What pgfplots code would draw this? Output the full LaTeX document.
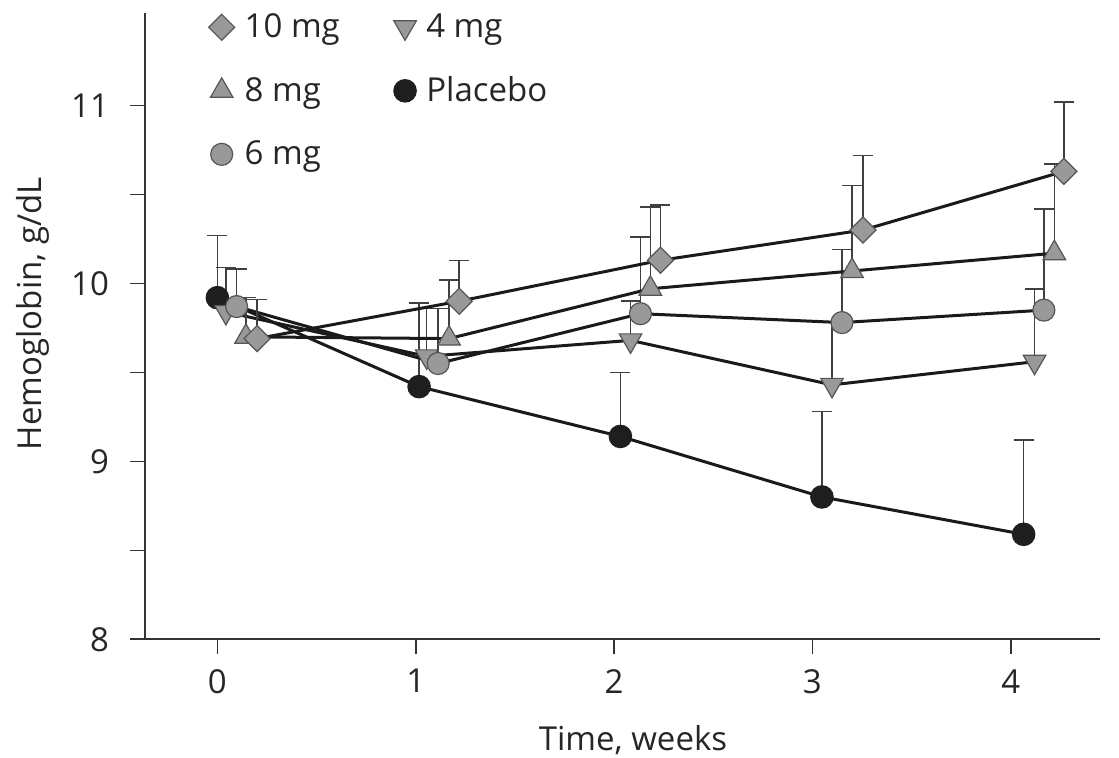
\documentclass[border=0pt]{standalone}
\usepackage{pgfplots}
\pgfplotsset{compat=1.18}
\usepackage{pgfplotstable}
\usepackage{fontspec}
\setmainfont{Open Sans}
\definecolor{mgrey}{HTML}{999999}
\definecolor{mdraw}{HTML}{555555}
\definecolor{pblack}{HTML}{1E1E1E}
\definecolor{lineblack}{HTML}{1A1A1A}
\definecolor{ebar}{HTML}{404040}

\pgfplotstableread{
x y ep
0.000 9.92 0.35
1.017 9.42 0.47
2.032 9.14 0.36
3.048 8.80 0.48
4.065 8.59 0.53
}\placebo
\pgfplotstableread{
x y ep
0.043 9.84 0.25
1.055 9.59 0.27
2.083 9.68 0.22
3.099 9.43 0.35
4.120 9.56 0.41
}\mgfour
\pgfplotstableread{
x y ep
0.097 9.87 0.21
1.113 9.55 0.31
2.133 9.83 0.43
3.149 9.78 0.41
4.167 9.85 0.57
}\mgsix
\pgfplotstableread{
x y ep
0.144 9.70 0.22
1.168 9.69 0.33
2.183 9.97 0.46
3.200 10.07 0.48
4.220 10.17 0.50
}\mgeight
\pgfplotstableread{
x y ep
0.200 9.69 0.22
1.219 9.90 0.23
2.234 10.13 0.31
3.255 10.30 0.42
4.268 10.63 0.39
}\mgten

\begin{document}
\begin{tikzpicture}
\useasboundingbox (-72.5pt,-59.35pt) rectangle (487pt,319.65pt);
\begin{axis}[
  at={(0,0)}, anchor=south west,
  scale only axis, width=477.5pt, height=313.15pt,
  xmin=-0.365, xmax=4.45, ymin=8, ymax=11.52,
  axis x line=bottom, axis y line=left,
  axis line style={-, line width=0.8pt, color=black!80},
  tick align=outside,
  major tick length=7.5pt, minor tick length=7.5pt,
  every tick/.style={line width=0.8pt, color=black!80},
  xtick={0,1,2,3,4}, ytick={8,9,10,11}, minor ytick={8.5,9.5,10.5},
  minor xtick={},
  /pgf/number format/assume math mode=true,
  tick label style={font=\fontsize{16.5}{20}\selectfont, color=black!85},
  xticklabel style={yshift=-4pt},
  yticklabel style={xshift=-7pt},
  every axis x label/.style={at={(axis description cs:0.511,-0.178)}, anchor=base,
    font=\fontsize{16.5}{20}\selectfont, color=black!85},
  every axis y label/.style={at={(axis description cs:-0.108,0.52)}, rotate=90, anchor=base,
    font=\fontsize{16.5}{20}\selectfont, color=black!85},
  xlabel={Time, weeks},
  ylabel={Hemoglobin, g/dL},
  clip=false,
  legend columns=2,
  legend image code/.code={\draw[#1] plot coordinates {(0pt,0pt)};},
  legend style={at={(axis description cs:0.060,1.012)}, anchor=north west,
    draw=none, fill=none, font=\fontsize{16.5}{20}\selectfont, text=black!85,
    row sep=14pt, column sep=3pt,
    /tikz/column 2/.style={column sep=25pt}},
  legend cell align=left,
  error bars/error bar style={line width=0.8pt, color=ebar},
  error bars/error mark options={rotate=90, mark size=5pt, line width=0.8pt, color=ebar},
]
\addlegendimage{mark=square*, mark size=4.6pt, mark options={rotate=45, fill=mgrey, draw=mdraw, line width=0.6pt}}
\addlegendentry{10 mg}
\addlegendimage{mark=triangle*, mark size=6.5pt, mark options={rotate=180, fill=mgrey, draw=mdraw, line width=0.6pt}}
\addlegendentry{4 mg}
\addlegendimage{mark=triangle*, mark size=6.5pt, mark options={fill=mgrey, draw=mdraw, line width=0.6pt}}
\addlegendentry{8 mg}
\addlegendimage{mark=*, mark size=5.6pt, mark options={fill=pblack, draw=pblack, line width=0.6pt}}
\addlegendentry{Placebo}
\addlegendimage{mark=*, mark size=5.5pt, mark options={fill=mgrey, draw=mdraw, line width=0.6pt}}
\addlegendentry{6 mg}

\addplot[forget plot, color=lineblack, line width=1.5pt, mark=*, mark size=5.6pt, mark options={fill=pblack, draw=pblack, line width=0.6pt},
  error bars/.cd, y dir=plus, y explicit] table[x=x, y=y, y error=ep] {\placebo};
\addplot[forget plot, color=lineblack, line width=1.5pt, mark=triangle*, mark size=6.5pt, mark options={rotate=180, fill=mgrey, draw=mdraw, line width=0.6pt},
  error bars/.cd, y dir=plus, y explicit] table[x=x, y=y, y error=ep] {\mgfour};
\addplot[forget plot, color=lineblack, line width=1.5pt, mark=*, mark size=5.5pt, mark options={fill=mgrey, draw=mdraw, line width=0.6pt},
  error bars/.cd, y dir=plus, y explicit] table[x=x, y=y, y error=ep] {\mgsix};
\addplot[forget plot, color=lineblack, line width=1.5pt, mark=triangle*, mark size=6.5pt, mark options={fill=mgrey, draw=mdraw, line width=0.6pt},
  error bars/.cd, y dir=plus, y explicit] table[x=x, y=y, y error=ep] {\mgeight};
\addplot[forget plot, color=lineblack, line width=1.5pt, mark=square*, mark size=4.6pt, mark options={rotate=45, fill=mgrey, draw=mdraw, line width=0.6pt},
  error bars/.cd, y dir=plus, y explicit] table[x=x, y=y, y error=ep] {\mgten};
\end{axis}
\end{tikzpicture}
\end{document}
